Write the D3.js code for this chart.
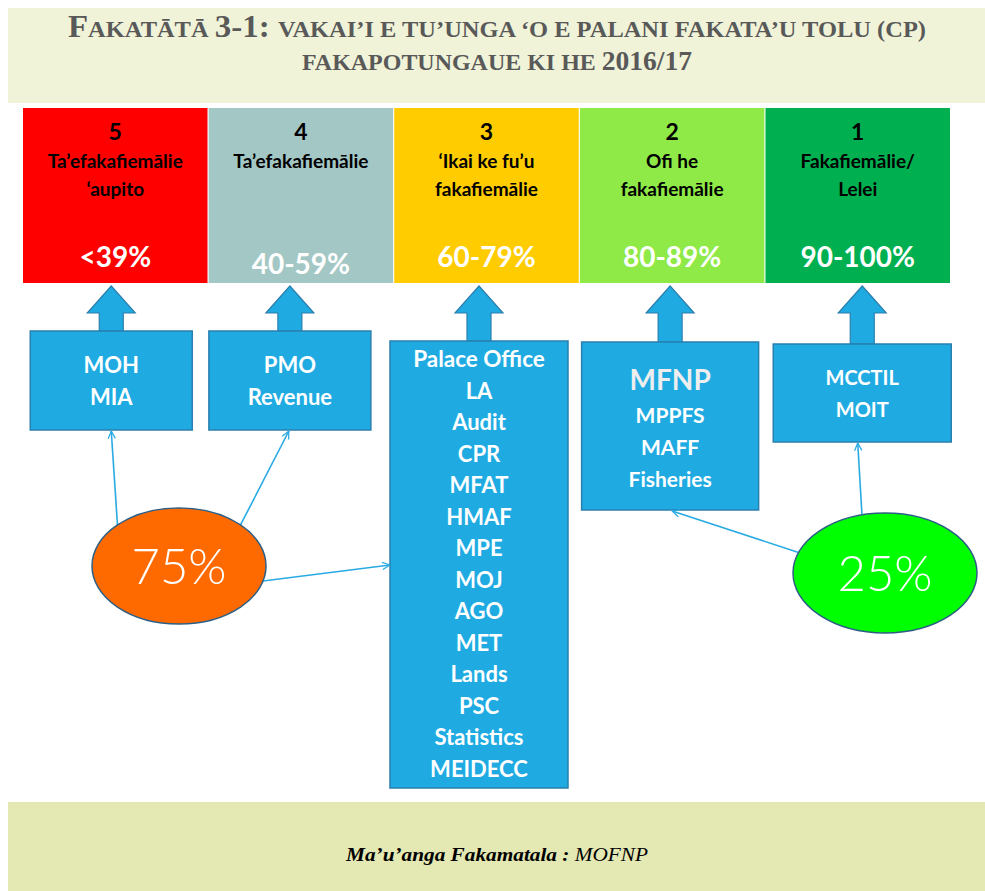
<!DOCTYPE html>
<html><head><meta charset="utf-8">
<script src="https://cdn.jsdelivr.net/npm/d3@7"></script>
<style>html,body{margin:0;padding:0;background:#fff;}svg{display:block;}</style>
</head><body>
<svg id="chart" width="985" height="891"></svg>
<script>
// ---------- data ----------
const levels = [5, 4, 3, 2, 1];
const levelLabels = [
  ["Ta’efakafiemālie", "‘aupito"],
  ["Ta’efakafiemālie"],
  ["‘Ikai ke fu’u", "fakafiemālie"],
  ["Ofi he", "fakafiemālie"],
  ["Fakafiemālie/", "Lelei"]
];
const ranges = ["<39%", "40-59%", "60-79%", "80-89%", "90-100%"];
const ministries = [
  ["MOH", "MIA"],
  ["PMO", "Revenue"],
  ["Palace Office", "LA", "Audit", "CPR", "MFAT", "HMAF", "MPE", "MOJ", "AGO", "MET", "Lands", "PSC", "Statistics", "MEIDECC"],
  ["MFNP", "MPPFS", "MAFF", "Fisheries"],
  ["MCCTIL", "MOIT"]
];
const shares = ["75%", "25%"];
const shareTargets = [[5, 4, 3], [2, 1]];
const titleLine1 = [["F", 1], ["AKATĀTĀ ", 0], ["3-1: ", 1], ["VAKAI’I E TU’UNGA ‘O E PALANI FAKATA’U TOLU (CP)", 0]];
const titleLine2 = [["FAKAPOTUNGAUE KI HE ", 0], ["2016/17", 1]];
const sourceBold = "Ma’u’anga Fakamatala : ";
const sourceText = "MOFNP";

// ---------- styles / layout ----------
const levelColor = d3.scaleOrdinal().domain(levels).range(["#ff0000", "#a3c7c4", "#ffcc00", "#8fea47", "#00b050"]);
const boxFill = "#1fabe2", boxStroke = "#2a7fae", lineColor = "#2aaae2";
const sans = "Lato, 'Open Sans', sans-serif";
const serif = "'Liberation Serif', 'Times New Roman', serif";

const svg = d3.select("#chart");
const x = d3.scaleBand().domain(levels).range([23, 950]).paddingInner(0.006);
const cx = l => x(l) + x.bandwidth() / 2;

// blue box geometry per level
const boxGeom = {
  5: {dx: -4, w: 162, top: 331, bot: 430, y0: 373, step: 32, f0: 22, f: 22},
  4: {dx: -11, w: 162, top: 331, bot: 430, y0: 373, step: 32, f0: 22, f: 22},
  3: {dx: -7.5, w: 178, top: 341, bot: 788, y0: 367, step: 31.5, f0: 22.5, f: 22},
  2: {dx: -2, w: 177, top: 342, bot: 510, y0: 390, step: 32, f0: 28, f: 21},
  1: {dx: 4.5, w: 178, top: 344, bot: 442, y0: 385, step: 32, f0: 20, f: 20}
};
const bx = l => cx(l) + boxGeom[l].dx;

// ---------- title band ----------
svg.append("rect").attr("x", 8).attr("y", 8).attr("width", 977).attr("height", 95).attr("fill", "#f0f3d8");
function smallCaps(parts, y, len, big, small) {
  const t = svg.append("text").attr("x", 497).attr("y", y).attr("text-anchor", "middle")
    .attr("font-family", serif).attr("font-weight", "bold").attr("fill", "#595959")
    .attr("textLength", len).attr("lengthAdjust", "spacingAndGlyphs");
  parts.forEach(([s, b]) => t.append("tspan").attr("font-size", b ? big : small).text(s));
}
smallCaps(titleLine1, 37, 858, 31, 23);
smallCaps(titleLine2, 70, 390, 27, 23.5);

// ---------- rating columns ----------
const cols = svg.append("g").selectAll("g").data(levels).join("g");
cols.append("rect").attr("x", d => x(d)).attr("y", 108).attr("width", x.bandwidth()).attr("height", 175)
  .attr("fill", d => levelColor(d));
cols.append("text").attr("x", d => cx(d)).attr("y", 140).attr("text-anchor", "middle")
  .attr("font-family", sans).attr("font-weight", "bold").attr("font-size", 23).attr("fill", "#000").text(d => d);
cols.each(function(d, i) {
  const g = d3.select(this);
  levelLabels[i].forEach((s, j) => g.append("text").attr("x", cx(d)).attr("y", 168 + j * 28)
    .attr("text-anchor", "middle").attr("font-family", sans).attr("font-weight", "bold")
    .attr("font-size", 19).attr("fill", "#000").text(s));
});
cols.append("text").attr("x", d => cx(d)).attr("y", (d, i) => i === 1 ? 274 : 267).attr("text-anchor", "middle")
  .attr("font-family", sans).attr("font-weight", "bold").attr("font-size", 28).attr("fill", "#fff").text((d, i) => ranges[i]);

// ---------- block arrows ----------
const arrowPath = l => {
  const c = bx(l), top = 286, hb = 313, bot = boxGeom[l].top, hw = 24, sw = 12;
  return d3.line()([[c, top], [c + hw, hb], [c + sw, hb], [c + sw, bot], [c - sw, bot], [c - sw, hb], [c - hw, hb]]) + "Z";
};
svg.append("g").selectAll("path").data(levels).join("path").attr("d", arrowPath)
  .attr("fill", boxFill).attr("stroke", boxStroke).attr("stroke-width", 1.2);

// ---------- ministry boxes ----------
const boxes = svg.append("g").selectAll("g").data(levels).join("g");
boxes.append("rect").attr("x", d => bx(d) - boxGeom[d].w / 2).attr("y", d => boxGeom[d].top)
  .attr("width", d => boxGeom[d].w).attr("height", d => boxGeom[d].bot - boxGeom[d].top)
  .attr("fill", boxFill).attr("stroke", boxStroke).attr("stroke-width", 1.5);
boxes.each(function(d, i) {
  const g = d3.select(this), b = boxGeom[d];
  ministries[i].forEach((s, j) => g.append("text").attr("x", bx(d)).attr("y", b.y0 + (j === 0 ? 0 : (d === 2 ? 1 : 0)) + j * b.step)
    .attr("text-anchor", "middle").attr("font-family", sans).attr("font-weight", "bold")
    .attr("font-size", j === 0 ? b.f0 : b.f).attr("fill", d === 2 && j === 0 ? "#eeeeee" : "#fff").text(s));
});

// ---------- share ellipses & connectors ----------
const defs = svg.append("defs");
defs.append("marker").attr("id", "open").attr("viewBox", "0 0 10 10").attr("refX", 9.5).attr("refY", 5)
  .attr("markerWidth", 9).attr("markerHeight", 9).attr("markerUnits", "userSpaceOnUse").attr("orient", "auto")
  .append("path").attr("d", "M1,1 L9.5,5 L1,9").attr("fill", "none").attr("stroke", lineColor).attr("stroke-width", 1.4);

const ellipses = [
  {cx: 179, cy: 566, rx: 87, ry: 58, fill: "#ff6a00"},
  {cx: 885, cy: 573, rx: 92, ry: 60, fill: "#00ff00"}
];
const connStart = {5: -135, 4: -45, 3: 15, 2: -160, 1: -104.5};
const connEnd = l => {
  const b = boxGeom[l];
  if (l === 3) return [bx(l) - b.w / 2, 565];
  if (l === 5) return [bx(l) + 0, b.bot + 1];
  if (l === 4) return [bx(l) - 1, b.bot + 1];
  if (l === 2) return [bx(l) + 2, b.bot + 1];
  return [bx(l) - 4.5, b.bot + 1];
};
shareTargets.forEach((targets, i) => {
  const e = ellipses[i];
  targets.forEach(l => {
    const a = connStart[l] * Math.PI / 180;
    const p0 = [e.cx + e.rx * Math.cos(a), e.cy + e.ry * Math.sin(a)];
    svg.append("path").attr("d", d3.line()([p0, connEnd(l)])).attr("fill", "none")
      .attr("stroke", lineColor).attr("stroke-width", 1.6).attr("marker-end", "url(#open)");
  });
});
const eg = svg.append("g").selectAll("g").data(ellipses).join("g");
eg.append("ellipse").attr("cx", d => d.cx).attr("cy", d => d.cy).attr("rx", d => d.rx).attr("ry", d => d.ry)
  .attr("fill", d => d.fill).attr("stroke", "#2d5f86").attr("stroke-width", 1.5);
eg.append("text").attr("x", d => d.cx).attr("y", d => d.cy + 18).attr("text-anchor", "middle")
  .attr("font-family", sans).attr("font-weight", 300).attr("font-size", 49).attr("fill", "#fff").text((d, i) => shares[i]);

// ---------- source band ----------
svg.append("rect").attr("x", 8).attr("y", 802).attr("width", 977).attr("height", 89).attr("fill", "#e4e8b3");
const src = svg.append("text").attr("x", 497).attr("y", 861).attr("text-anchor", "middle")
  .attr("font-family", serif).attr("font-style", "italic").attr("font-size", 19).attr("fill", "#000")
  .attr("textLength", 302).attr("lengthAdjust", "spacingAndGlyphs");
src.append("tspan").attr("font-weight", "bold").text(sourceBold);
src.append("tspan").text(sourceText);
</script>
</body></html>
